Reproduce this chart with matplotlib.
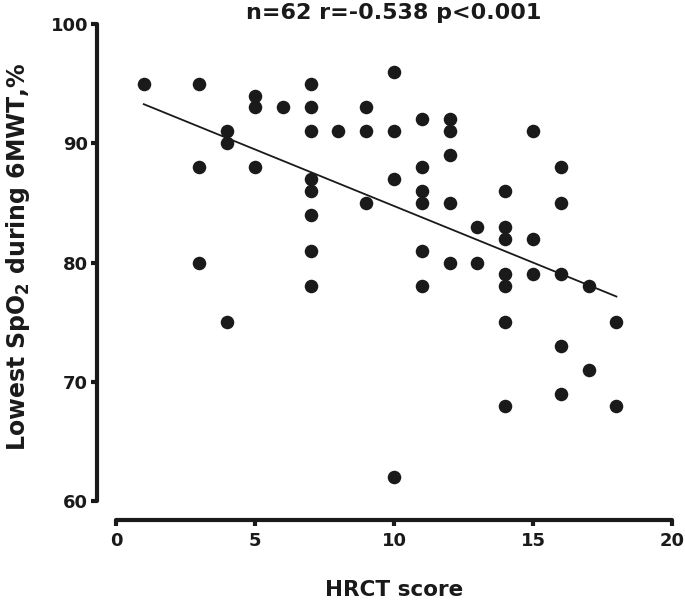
import numpy as np
import matplotlib
matplotlib.use("Agg")
import matplotlib.pyplot as plt

plt.rcParams['font.family'] = ['DejaVu Sans']
plt.rcParams['font.weight'] = 'bold'

# HRCT score vs lowest SpO2 during 6MWT
hrct = [1,
        3, 3, 3,
        4, 4, 4,
        5, 5, 5,
        6,
        7, 7, 7, 7, 7, 7, 7, 7,
        8,
        9, 9, 9,
        10, 10, 10, 10,
        11, 11, 11, 11, 11, 11,
        12, 12, 12, 12, 12,
        13, 13,
        14, 14, 14, 14, 14, 14, 14,
        15, 15, 15,
        16, 16, 16, 16, 16,
        17, 17,
        18, 18]
spo2 = [95,
        95, 88, 80,
        91, 90, 75,
        94, 93, 88,
        93,
        95, 93, 91, 87, 86, 84, 81, 78,
        91,
        93, 91, 85,
        96, 91, 87, 62,
        92, 88, 86, 85, 81, 78,
        92, 91, 89, 85, 80,
        83, 80,
        86, 83, 82, 79, 78, 75, 68,
        91, 82, 79,
        88, 85, 79, 73, 69,
        78, 71,
        75, 68]
title = "n=62 r=-0.538 p<0.001"

x = np.array(hrct, dtype=float)
y = np.array(spo2, dtype=float)
ink = '#1a1a1a'

fig = plt.figure(figsize=(6.85, 6.07), dpi=100)
ax = fig.add_axes([116/685, 1 - 501/607, (672 - 116)/685, (501 - 24)/607])

ax.scatter(x, y, s=95, color=ink, zorder=3, linewidths=0)

slope, icpt = np.polyfit(x, y, 1)
xl = np.array([x.min(), x.max()])
ax.plot(xl, icpt + slope*xl, color=ink, lw=1.3, zorder=2)

ax.set_xlim(0, 20)
ax.set_ylim(60, 100)
ax.set_xticks([0, 5, 10, 15, 20])
ax.set_yticks([60, 70, 80, 90, 100])

for s in ['top', 'right']:
    ax.spines[s].set_visible(False)
ax.spines['left'].set_position(('outward', 14))
ax.spines['bottom'].set_position(('outward', 14))
for s in ['left', 'bottom']:
    ax.spines[s].set_linewidth(3)
    ax.spines[s].set_color(ink)
    ax.spines[s].set_capstyle('round')

ax.tick_params(axis='both', length=4, width=3, color=ink,
               labelsize=13, pad=2, labelcolor=ink)
ax.tick_params(axis='x', pad=4)
for lab in ax.get_xticklabels() + ax.get_yticklabels():
    lab.set_fontweight('bold')

fig.text(394/685, 1 - 13/607, title, fontsize=16, fontweight='bold',
         color=ink, ha='center', va='center')
ax.set_xlabel("HRCT score", fontsize=15.5, fontweight='bold', color=ink,
              va='center')
ax.xaxis.set_label_coords(0.5, (501 - 590)/477)
ax.set_ylabel("Lowest SpO$_\\mathbf{2}$ during 6MWT,%", fontsize=17,
              fontweight='bold', color=ink, va='center')
ax.yaxis.set_label_coords((18 - 116)/556, (501 - 257)/477)

fig.savefig("out.png", dpi=100)
